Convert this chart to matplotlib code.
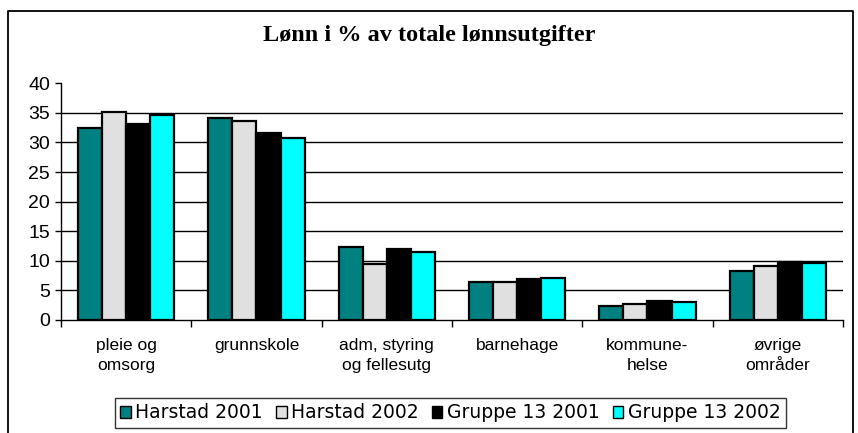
import matplotlib
matplotlib.use("Agg")
import matplotlib.pyplot as plt
from matplotlib.patches import Rectangle
from matplotlib.lines import Line2D
import numpy as np

categories = ["pleie og\nomsorg", "grunnskole", "adm, styring\nog fellesutg", "barnehage", "kommune-\nhelse", "øvrige\nområder"]
series_names = ["Harstad 2001", "Harstad 2002", "Gruppe 13 2001", "Gruppe 13 2002"]
harstad_2001 = [32.5, 34.2, 12.3, 6.5, 2.4, 8.3]
harstad_2002 = [35.1, 33.6, 9.5, 6.5, 2.75, 9.2]
gruppe13_2001 = [33.2, 31.6, 12.0, 6.9, 3.15, 9.8]
gruppe13_2002 = [34.6, 30.7, 11.5, 7.1, 3.0, 9.7]
yticks = [0, 5, 10, 15, 20, 25, 30, 35, 40]

series = [harstad_2001, harstad_2002, gruppe13_2001, gruppe13_2002]
colors = ["#008080", "#E0E0E0", "#000000", "#00FFFF"]

fig = plt.figure(figsize=(8.58, 4.33), dpi=100)
ax = fig.add_axes([0.0711, 0.261, 0.9114, 0.5466])

x = np.arange(len(categories))
w = 0.185
for i, (vals, c) in enumerate(zip(series, colors)):
    ax.bar(x + (i - 1.5) * w, vals, width=w, color=c, edgecolor="black",
           linewidth=1.6, zorder=3, label=series_names[i])

ax.set_xlim(-0.5, len(categories) - 0.5)
ax.set_ylim(0, 40)
ax.set_yticks(yticks)
ax.set_yticklabels([str(t) for t in yticks], fontsize=14, family="Liberation Sans")
for t in yticks[1:-1]:
    ax.axhline(t, color="black", linewidth=1.0, zorder=1)

ax.set_xticks(np.arange(len(categories) + 1) - 0.5)
ax.set_xticklabels([])
ax.set_xticks(x, minor=True)
ax.set_xticklabels(categories, minor=True, fontsize=12.5,
                   family="Liberation Sans", linespacing=1.45)
ax.tick_params(axis="x", which="minor", length=0, pad=13)
ax.tick_params(axis="x", which="major", length=5, width=1, direction="out")
ax.tick_params(axis="y", length=4, width=1, direction="out", pad=4)

for s in ["top", "right"]:
    ax.spines[s].set_visible(False)
for s in ["left", "bottom"]:
    ax.spines[s].set_linewidth(1.0)
    ax.spines[s].set_color("black")

fig.text(0.5, 1 - 36 / 433, "Lønn i % av totale lønnsutgifter", ha="center", va="center",
         fontsize=17.5, fontweight="bold", family="Liberation Serif")

# outer frame (no bottom edge)
W, H = 858, 433
frame = Line2D([8 / W, 8 / W, 853 / W, 853 / W], [0, 1 - 11 / H, 1 - 11 / H, 0],
               transform=fig.transFigure, color="black", linewidth=1.3)
fig.add_artist(frame)

handles = [Rectangle((0, 0), 1, 1, facecolor=c, edgecolor="black", linewidth=1.0) for c in colors]
leg = fig.legend(handles, series_names, loc="center", bbox_to_anchor=(450.5 / W, 1 - 413 / H),
                 ncol=4, frameon=True, fancybox=False, edgecolor="black",
                 prop={"family": "DejaVu Sans", "size": 13.5},
                 handlelength=0.55, handleheight=0.55, handletextpad=0.25, columnspacing=0.7,
                 borderpad=0.3, borderaxespad=0)
leg.get_frame().set_linewidth(1.0)

fig.savefig("out.png", dpi=100)
